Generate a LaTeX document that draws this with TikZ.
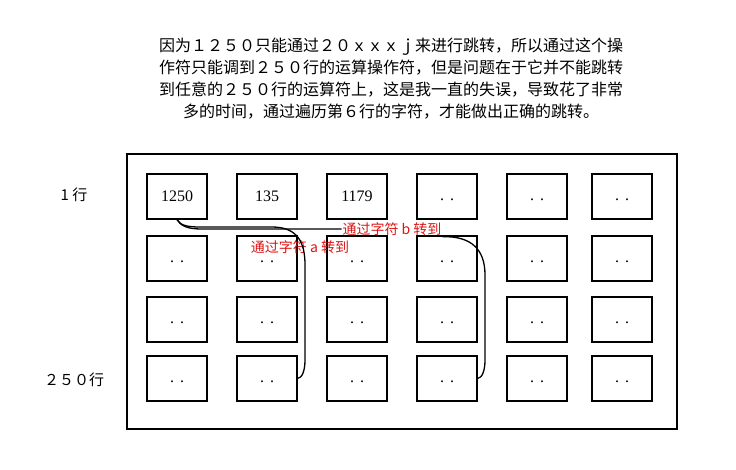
\documentclass[tikz,border=0pt]{standalone}
\usepackage{fontspec}
\setmainfont{Liberation Serif}
\newfontfamily\cjk{Noto Sans CJK SC}
\definecolor{labred}{RGB}{220,20,20}
\newcommand\celldots{\smash{\raisebox{-4pt}{.\hspace{6pt}.}}}
\tikzset{
  cell/.style={draw, line width=1.1pt, minimum width=60pt, minimum height=45pt, inner sep=0pt, font=\fontsize{16}{16}\selectfont},
  frame/.style={draw, line width=1.1pt},
  link/.style={line width=1.3pt, line cap=round},
  redlab/.style={text=labred, inner sep=1pt, font=\cjk\fontsize{14}{14}\selectfont},
  rowlab/.style={inner sep=0pt, font=\cjk\fontsize{15}{15}\selectfont}
}
\begin{document}
\begin{tikzpicture}[x=1pt,y=-1pt]
\useasboundingbox (0,0) rectangle (736,470);
\node[align=center, font=\cjk\fontsize{16}{22}\selectfont] (txt) at (391,79)
 {因为１２５０只能通过２０ｘｘｘｊ来进行跳转，所以通过这个操\\
  作符只能调到２５０行的运算操作符，但是问题在于它并不能跳转\\
  到任意的２５０行的运算符上，这是我一直的失误，导致花了非常\\
  多的时间，通过遍历第６行的字符，才能做出正确的跳转。};
\draw[frame] (127,154) rectangle (677,429);
\node[rowlab] (r1) at (74,195) {1 行};
\node[rowlab] (r250) at (74,380) {２５０行};
\node[cell] (c11) at (177,196.5) {1250};
\node[cell] (c12) at (267,196.5) {135};
\node[cell] (c13) at (357,196.5) {1179};
\node[cell] (c14) at (447,196.5) {\celldots};
\node[cell] (c15) at (537,196.5) {\celldots};
\node[cell] (c16) at (622,196.5) {\celldots};
\foreach \r/\y in {2/258.5,3/319.5,4/378.5}{
  \foreach \c/\x in {1/177,2/267,3/357,4/447,5/537,6/622}{
    \node[cell] (c\r\c) at (\x,\y) {\celldots};
  }
}
\node[redlab] (la) at (300,247) {通过字符 a 转到};
\node[redlab] (lb) at (392,229) {通过字符 b 转到};
\draw[link] (c11.south) .. controls (180,225) and (186,227) .. (200,227)
  -- (272,227) .. controls (298,227) and (305,243) .. (305,265)
  -- (305,360) .. controls (305,371) and (302,378) .. (c42.east);
\draw[link] (c11.south) .. controls (181,226) and (187,229) .. (202,229)
  -- (lb.west);
\draw[link] (lb.south east) .. controls (472,236) and (485,250) .. (485,275)
  -- (485,360) .. controls (485,371) and (482,378) .. (c44.east);
\end{tikzpicture}
\end{document}
